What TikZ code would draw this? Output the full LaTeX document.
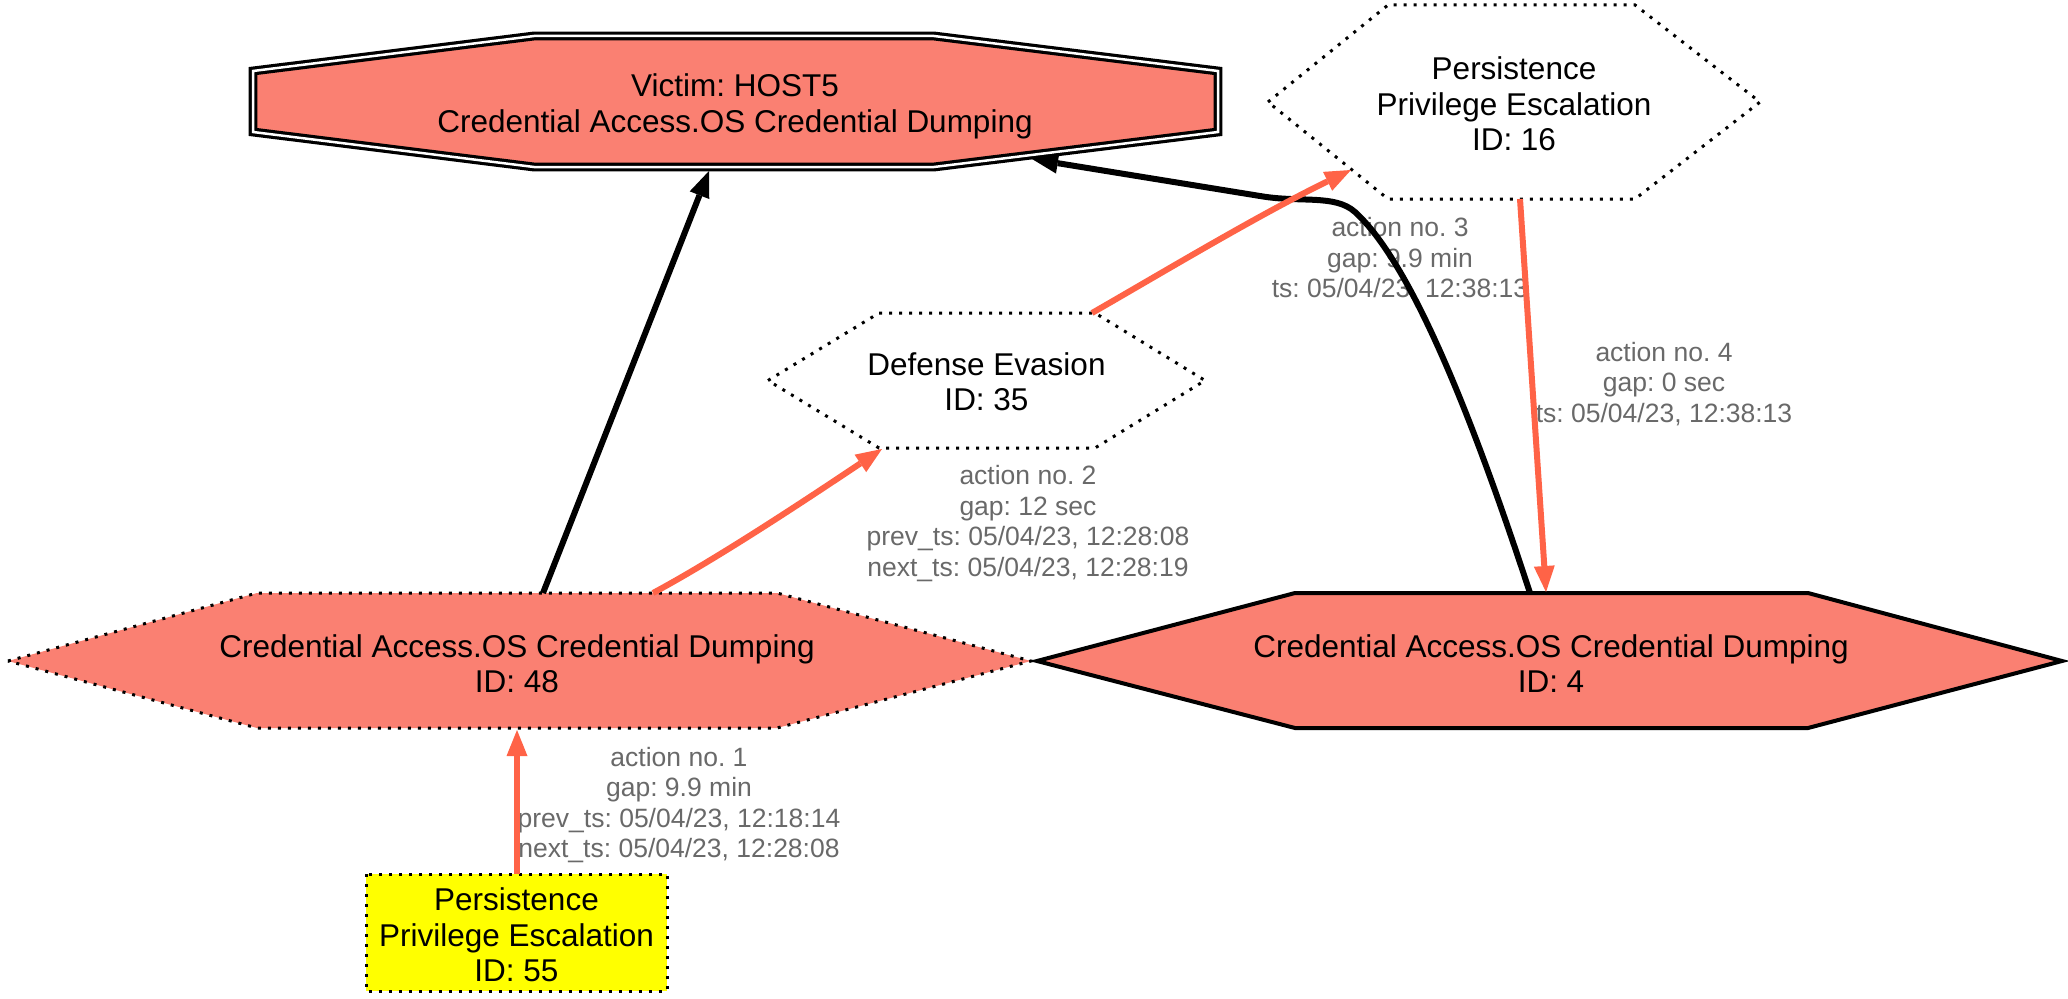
\documentclass[tikz,border=0pt]{standalone}
\usepackage{fontspec}
\setmainfont{Liberation Sans}
\frenchspacing
\usetikzlibrary{arrows.meta}
\definecolor{salmonfill}{HTML}{FA8072}
\definecolor{tomatoedge}{HTML}{FF6347}
\definecolor{lblgray}{HTML}{696969}
\definecolor{pureyellow}{HTML}{FFFF00}
\begin{document}
\begin{tikzpicture}[x=1pt,y=-1pt,
  nodetext/.style={align=center, inner sep=0pt, font=\fontsize{31.5}{35.5}\selectfont, text=black},
  edgelabel/.style={align=center, inner sep=0pt, font=\fontsize{26.5}{30.5}\selectfont, text=lblgray},
  dotborder/.style={draw=black, line width=3pt, dash pattern=on 3pt off 7pt},
  solidborder/.style={draw=black, line width=4pt, line join=miter},
  victimborder/.style={draw=black, line width=3.2pt, double=white, double distance=2.5pt, line join=miter},
  redarrow/.style={draw=tomatoedge, line width=6pt, -{Triangle[length=26pt,width=21pt,line width=0pt]}},
  blackarrow/.style={draw=black, line width=6pt, -{Triangle[length=26pt,width=21pt,line width=0pt]}},
]
\useasboundingbox (0,0) rectangle (2068,998);

% ---- shapes ----
\filldraw[fill=salmonfill, victimborder]
  (253,71) -- (534,36) -- (934,36) -- (1218,71) -- (1218,132) -- (934,167) -- (534,167) -- (253,132) -- cycle;
\draw[dotborder]
  (1268,102) -- (1388,5) -- (1635,5) -- (1760,102) -- (1635,199) -- (1388,199) -- cycle;
\draw[dotborder]
  (768,380.5) -- (879,313) -- (1095,313) -- (1205,380.5) -- (1095,448) -- (879,448) -- cycle;
\filldraw[fill=salmonfill, dotborder]
  (8,661) -- (257,593) -- (777,593) -- (1031,661) -- (777,728) -- (257,728) -- cycle;
\filldraw[fill=salmonfill, solidborder]
  (1037,661) -- (1295,593) -- (1808,593) -- (2062,661) -- (1808,728) -- (1295,728) -- cycle;
\filldraw[fill=pureyellow, dotborder] (366,874) rectangle (667,991);

% ---- node texts ----
\node[nodetext] (victim) at (735,106.5) {Victim: HOST5\\Credential Access.OS Credential Dumping};
\node[nodetext] (n16) at (1514,104) {Persistence\\Privilege Escalation\\ID: 16};
\node[nodetext] (n35) at (986.5,381.5) {Defense Evasion\\ID: 35};
\node[nodetext] (n48) at (517,663.5) {Credential Access.OS Credential Dumping\\ID: 48};
\node[nodetext] (n4) at (1551,663.5) {Credential Access.OS Credential Dumping\\ID: 4};
\node[nodetext] (n55) at (516.5,935) {Persistence\\Privilege Escalation\\ID: 55};

% ---- edge labels ----
\node[edgelabel] (l1) at (679,805) {action no. 1\\gap: 9.9 min\\prev\_ts: 05/04/23, 12:18:14\\next\_ts: 05/04/23, 12:28:08};
\node[edgelabel] (l2) at (1028,523.5) {action no. 2\\gap: 12 sec\\prev\_ts: 05/04/23, 12:28:08\\next\_ts: 05/04/23, 12:28:19};
\node[edgelabel] (l3) at (1400,259.5) {action no. 3\\gap: 9.9 min\\ts: 05/04/23, 12:38:13};
\node[edgelabel] (l4) at (1664,384) {action no. 4\\gap: 0 sec\\ts: 05/04/23, 12:38:13};

% ---- connector end points on the shapes ----
\coordinate (n55top) at (517,874);
\coordinate (n48bot) at (517,730);
\coordinate (n48topr) at (653,593);
\coordinate (n35botl) at (882,449);
\coordinate (n35topr) at (1092,313);
\coordinate (n16botl) at (1351,170);
\coordinate (n16bot) at (1520,199);
\coordinate (n4top) at (1546,592);
\coordinate (n4topl) at (1530,593);
\coordinate (victimr) at (1032,159);
\coordinate (n48topl) at (543,593);
\coordinate (victimb) at (709,171);

% ---- connectors ----
\draw[blackarrow] (n48topl) -- (victimb);
\draw[blackarrow] (n4topl) .. controls (1470,410) and (1410,262) .. (1355,212)
  .. controls (1335,194) and (1300,203) .. (1260,196) -- (victimr);
\draw[redarrow] (n55top) -- (n48bot);
\draw[redarrow] (n48topr) .. controls (720,557) and (810,497) .. (n35botl);
\draw[redarrow] (n35topr) .. controls (1160,274) and (1260,214) .. (n16botl);
\draw[redarrow] (n16bot) -- (n4top);
\end{tikzpicture}
\end{document}
